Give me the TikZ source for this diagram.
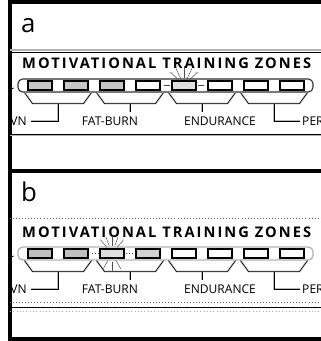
\documentclass[tikz,border=0pt]{standalone}
\usepackage{fontspec}
\setmainfont{Open Sans}
\newfontfamily\headfont[LetterSpace=14]{Open Sans}
\usetikzlibrary{calc}

\tikzset{
  zone/.style={draw, line width=0.9pt, minimum width=7.2mm, minimum height=2.7mm, inner sep=0pt},
  twin/.style={preaction={draw=gray!55, line width=1.6pt}, draw=black, line width=0.45pt},
  ray/.style={draw=black!70, line width=0.4pt},
  zonelabel/.style={font=\fontsize{10.3}{11}\selectfont, inner sep=0pt},
  panel/.style={font=\fontsize{22}{22}\selectfont, anchor=base west, inner sep=0pt},
  heading/.style={font=\headfont\bfseries\fontsize{12.5}{13}\selectfont, anchor=base west, inner sep=0pt}
}

\begin{document}
\begin{tikzpicture}[x=0.3mm, y=-0.3mm]
\useasboundingbox (0,0) rectangle (321,341);
\clip (0,0) rectangle (321,341);
% frame
\draw[line width=2.6pt] (321,2) -- (10,2) -- (10,339) -- (321,339);
\draw[line width=2.6pt] (10,171) -- (321,171);

% panel a
\node[panel] (la) at (21,33) {a};
\draw[gray!60, line width=1.2pt] (10,50) -- (321,50);
\draw[line width=0.4pt] (10,52) -- (321,52);
\node[heading] (ha) at (22,69) {MOTIVATIONAL TRAINING ZONES};
\draw[line width=0.6pt] (10,89) -- (14,88);
\draw[twin, rounded corners=4pt] (18,79) rectangle (313,92);
\foreach \i/\f in {1/gray!45, 2/gray!45, 3/gray!45, 4/white, 5/gray!25, 6/white, 7/white, 8/white}
  \node[zone, fill=\f] (a\i) at ({40+36*(\i-1)},85.5) {};
% sparkle round the active zone
\foreach \a in {225,245,270,295,315} \draw[ray] ($(a5.center)+(\a:7)$) -- ($(a5.center)+(\a:19)$);
\foreach \a in {0,180} \draw[ray] ($(a5.center)+(\a:14)$) -- ($(a5.center)+(\a:20)$);
% brackets under pairs
\foreach \k [evaluate=\k as \l using int(2*\k+1), evaluate=\k as \r using int(2*\k+2)] in {0,...,3}{
  \draw[twin] ($(a\l.south west)+(-3,2)$) -- ($(a\l.south west)+(5,13)$) coordinate (p\k)
    -- ($(a\r.south east)+(-5,13)$) coordinate (q\k) -- ($(a\r.south east)+(3,2)$);
  \coordinate (m\k) at ($(p\k)!0.5!(q\k)$);
}
\node[zonelabel, anchor=east] (wa) at (27,121) {VN};
\node[zonelabel] (fa) at (110,121) {FAT-BURN};
\node[zonelabel] (ea) at (220,121) {ENDURANCE};
\node[zonelabel, anchor=west] (pa) at (302,121) {PER};
\draw[twin] (m0) |- ($(wa.east)+(4,0)$);
\draw[twin] (m1) -- ++(0,8);
\draw[twin] (m2) -- ++(0,8);
\draw[twin] (m3) |- ($(pa.west)+(-2,0)$);
\draw[gray!60, line width=1.4pt] (10,135.5) -- (321,135.5);
\draw[line width=0.35pt] (10,134) -- (321,134);

% panel b
\begin{scope}[shift={(0,168)}]
\node[panel] (lb) at (21,33) {b};
\draw[black!60, line width=0.6pt, dotted] (10,50) -- (321,50);
\node[heading] (hb) at (22,69) {MOTIVATIONAL TRAINING ZONES};
\draw[line width=0.6pt] (10,89) -- (14,88);
\draw[gray!60, line width=1.1pt, rounded corners=4pt] (18,79) rectangle (313,92);
\foreach \i/\f in {1/gray!50, 2/gray!50, 3/gray!25, 4/gray!35, 5/white, 6/white, 7/white, 8/white}
  \node[zone, fill=\f] (b\i) at ({40+36*(\i-1)},85.5) {};
% sparkle round the active zone
\foreach \a in {230,250,270,290,310,60,90,120} \draw[ray] ($(b3.center)+(\a:8)$) -- ($(b3.center)+(\a:18)$);
\foreach \a in {0,180} \draw[ray, dotted] ($(b3.center)+(\a:14)$) -- ($(b3.center)+(\a:20)$);
% brackets under pairs
\foreach \k [evaluate=\k as \l using int(2*\k+1), evaluate=\k as \r using int(2*\k+2)] in {0,...,3}{
  \draw[twin] ($(b\l.south west)+(-3,2)$) -- ($(b\l.south west)+(5,13)$) coordinate (u\k)
    -- ($(b\r.south east)+(-5,13)$) coordinate (v\k) -- ($(b\r.south east)+(3,2)$);
  \coordinate (n\k) at ($(u\k)!0.5!(v\k)$);
}
\node[zonelabel, anchor=east] (wb) at (27,121) {VN};
\node[zonelabel] (fb) at (110,121) {FAT-BURN};
\node[zonelabel] (eb) at (220,121) {ENDURANCE};
\node[zonelabel, anchor=west] (pb) at (302,121) {PER};
\draw[twin] (n0) |- ($(wb.east)+(4,0)$);
\draw[twin] (n1) -- ++(0,8);
\draw[twin] (n2) -- ++(0,8);
\draw[twin] (n3) |- ($(pb.west)+(-2,0)$);
\draw[black!60, line width=0.6pt, dotted] (10,134) -- (321,134);
\draw[line width=0.6pt] (10,139) -- (321,139);
\draw[gray!60, line width=0.8pt, dotted] (10,143) -- (321,143);
\end{scope}
\end{tikzpicture}
\end{document}
